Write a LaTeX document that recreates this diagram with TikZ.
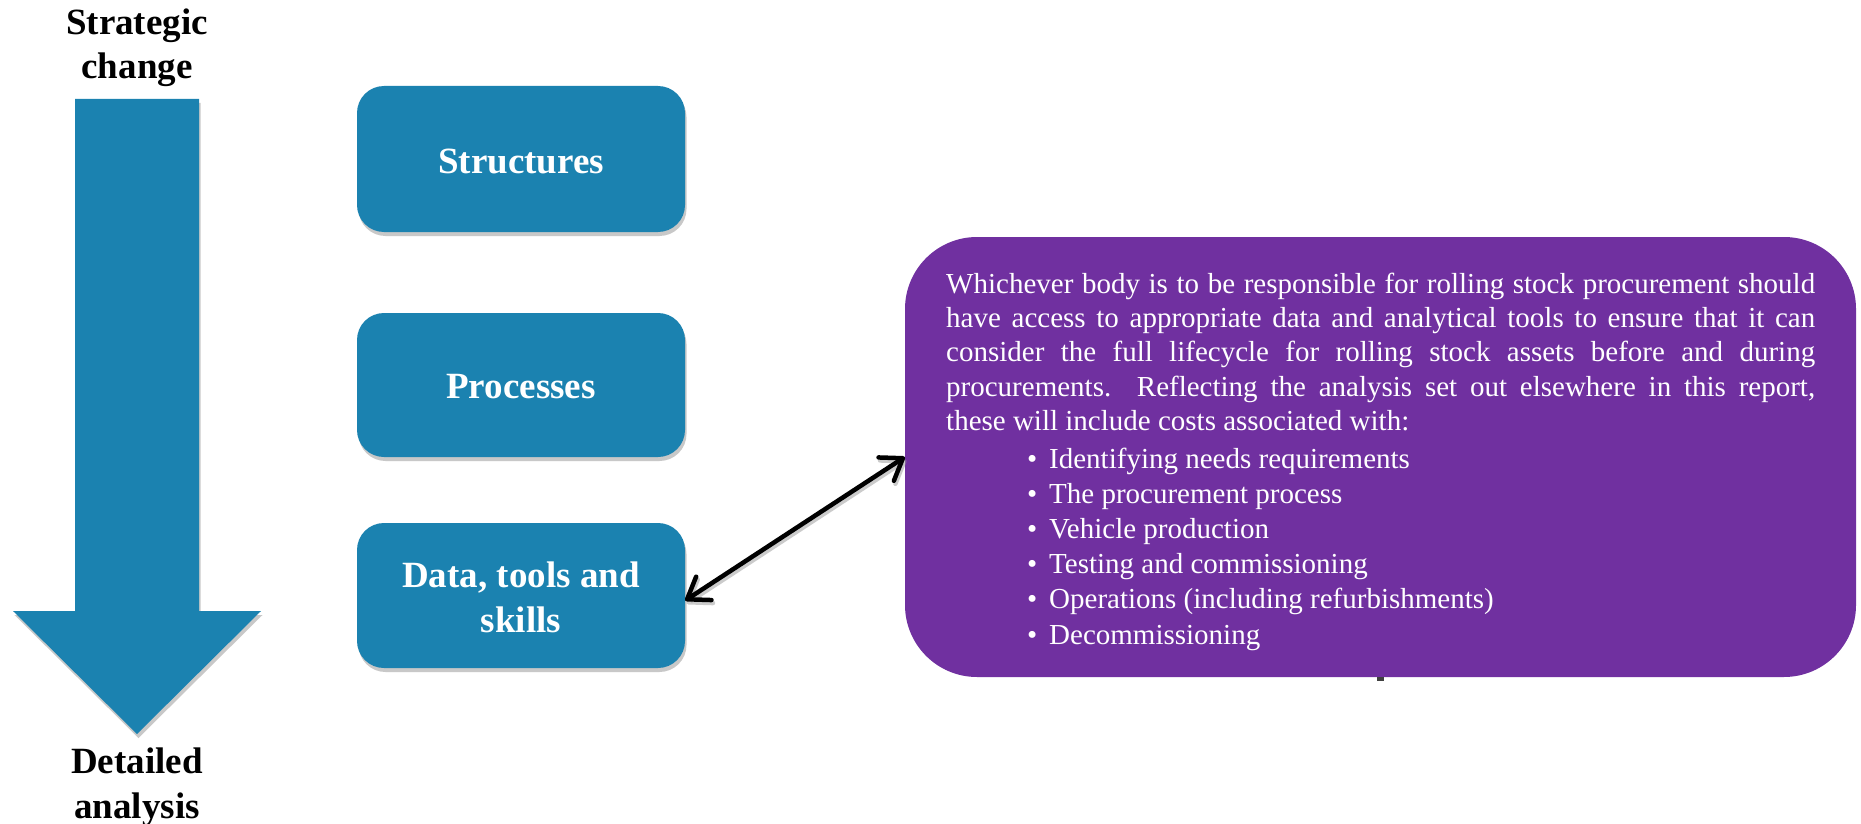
\documentclass[tikz,border=0pt]{standalone}
\usepackage{fontspec}
\setmainfont{Liberation Serif}
\usetikzlibrary{shadows,arrows.meta,calc}
\definecolor{boxblue}{RGB}{27,130,176}
\definecolor{boxpurple}{RGB}{112,48,160}
\begin{document}
\begin{tikzpicture}[x=1pt,y=-1pt,
  softshadow/.style={drop shadow={shadow xshift=1.5pt, shadow yshift=-4pt, opacity=0.3, fill=black!70}},
  bluebox/.style={fill=boxblue, rounded corners=27pt, minimum width=328pt, minimum height=145pt,
    inner sep=0pt, text=white, align=center, font=\bfseries\fontsize{37}{45}\selectfont, softshadow},
  sidelabel/.style={align=center, inner sep=0pt, font=\bfseries\fontsize{37}{44.5}\selectfont},
  purplebox/.style={fill=boxpurple, rounded corners=72pt, minimum width=951pt, minimum height=440pt, inner sep=0pt},
  bodytext/.style={inner sep=0pt, text=white, font=\fontsize{29}{34.4}\selectfont},
  link/.style={line width=4.5pt, {Straight Barb[length=20pt, width=28pt, round]}-{Straight Barb[length=20pt, width=28pt, round]}}
]
\path[use as bounding box, fill=white] (0,0) rectangle (1861,824);

% big downward arrow
\fill[boxblue, softshadow] (75,99) -- (199,99) -- (199,611) -- (261,611) -- (137,734) -- (13,611) -- (75,611) -- cycle;
\node[sidelabel, anchor=base] (strat) at (137,79) {Strategic\\change};
\node[sidelabel, anchor=base] (detail) at (137,818) {Detailed\\analysis};

% blue boxes
\node[bluebox, minimum height=146pt, text height=30pt, text depth=0pt] (struct) at (521,159) {Structures};
\node[bluebox, minimum height=144pt, text height=26.5pt, text depth=0pt] (proc) at (521,385) {Processes};
\node[bluebox, text height=73pt, text depth=0pt] (data) at (521,595.5) {Data, tools and\\skills};

% purple box
\node[purplebox] (purple) at (1380.5,457) {};
\fill[black!75] (1377,677) rectangle (1384,681);

\node[bodytext, anchor=base west, text width=869pt, align=justify] (para) at (946,293) {%
\makebox[869pt][s]{Whichever body is to be responsible for rolling stock procurement should}\\
\makebox[869pt][s]{have access to appropriate data and analytical tools to ensure that it can}\\
\makebox[869pt][s]{consider the full lifecycle for rolling stock assets before and during}\\
\makebox[869pt][s]{procurements.\ \ Reflecting the analysis set out elsewhere in this report,}\\
these will include costs associated with:};

\node[bodytext, anchor=base west, align=left, font=\fontsize{29}{35.2}\selectfont] (bullets) at (1027,644) {%
\makebox[22pt][l]{•}Identifying needs requirements\\
\makebox[22pt][l]{•}The procurement process\\
\makebox[22pt][l]{•}Vehicle production\\
\makebox[22pt][l]{•}Testing and commissioning\\
\makebox[22pt][l]{•}Operations (including refurbishments)\\
\makebox[22pt][l]{•}Decommissioning};

% double-headed connector with shadow
\draw[link, draw=black!40, opacity=0.5, transform canvas={shift={(1.5pt,-3pt)}}] ($(data.east)+(0,5)$) -- (purple.west);
\draw[link] ($(data.east)+(0,5)$) -- (purple.west);
\end{tikzpicture}
\end{document}
